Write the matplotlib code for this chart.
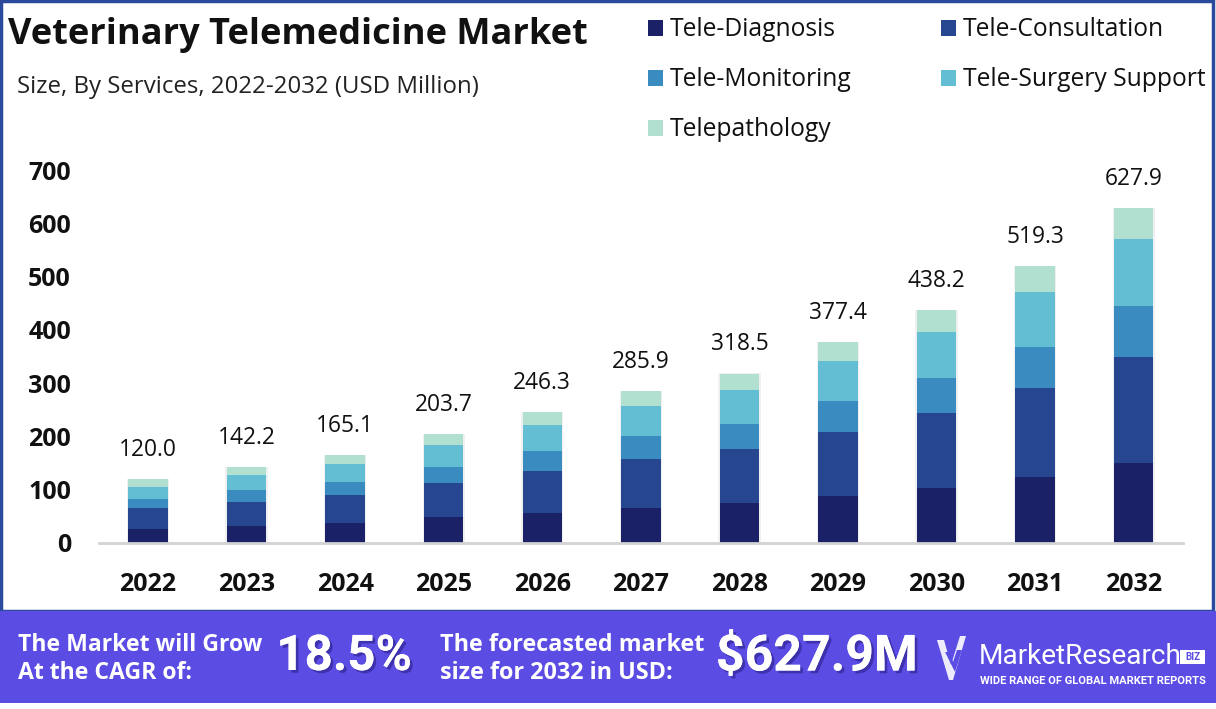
import matplotlib
matplotlib.use("Agg")
import matplotlib.pyplot as plt
from matplotlib.patches import Rectangle, Polygon
import matplotlib.patheffects as pe
import numpy as np

# ---------------- data ----------------
years = ["2022", "2023", "2024", "2025", "2026", "2027", "2028", "2029", "2030", "2031", "2032"]
series_names = ["Tele-Diagnosis", "Tele-Consultation", "Tele-Monitoring",
                "Tele-Surgery Support", "Telepathology"]
tele_diagnosis = [26, 32, 38, 48, 57, 66, 76, 88, 104, 123, 150]
tele_consultation = [40, 45, 52, 65, 78, 92, 101, 120, 140, 167, 200]
tele_monitoring = [16, 23, 25, 30, 38, 43, 47, 58, 66, 77, 94]
tele_surgery = [24, 28, 34, 41, 49, 57, 64, 75, 86, 104, 126]
telepathology = [14, 14, 16, 20, 24, 28, 30, 36, 42, 48, 58]
totals = [120.0, 142.2, 165.1, 203.7, 246.3, 285.9, 318.5, 377.4, 438.2, 519.3, 627.9]
yticks = [0, 100, 200, 300, 400, 500, 600, 700]
cagr_text = "18.5%"
forecast_text = "$627.9M"

colors = ["#1a2166", "#26478f", "#3a8cc0", "#63bdd3", "#b1dfd0"]

W, H = 1216, 709
fig = plt.figure(figsize=(W / 100, H / 100), dpi=100)
fig.patch.set_facecolor("white")

def fx(x):
    return x / W

def fy(y):
    return 1 - y / H

FONT = "Open Sans"

# ---------------- axes ----------------
ax = fig.add_axes([fx(98.7), fy(543), (1183 - 98.7) / W, (543 - 170) / H])
x = np.arange(len(years))
series = [tele_diagnosis, tele_consultation, tele_monitoring, tele_surgery, telepathology]
bottom = np.zeros(len(years))
bw = 0.40
# faint shadow behind the bars
ax.bar(x, np.array(totals), width=bw + 0.03, color="#e6e6ea", alpha=0.6, zorder=1)
for vals, c, name in zip(series, colors, series_names):
    ax.bar(x, vals, width=bw, bottom=bottom, color=c, label=name, zorder=2)
    bottom += np.array(vals)

for xi, t, top in zip(x, totals, bottom):
    ax.annotate(f"{t:.1f}", xy=(xi, max(t, top)), xytext=(0, 16.5), textcoords="offset points",
                ha="center", va="baseline", fontsize=16.4, family=FONT, color="#111111")

ax.set_xlim(-0.5, len(years) - 0.5)
ax.set_ylim(0, 700)
ax.set_yticks(yticks)
ax.set_yticklabels([str(v) for v in yticks], fontsize=18, fontweight="bold", family=FONT, color="#111111")
ax.set_xticks(x)
ax.set_xticklabels(years, fontsize=18, fontweight="bold", family=FONT, color="#111111")
ax.tick_params(axis="both", length=0)
ax.tick_params(axis="y", pad=20)
ax.tick_params(axis="x", pad=21)
for s in ["top", "right", "left"]:
    ax.spines[s].set_visible(False)
ax.spines["bottom"].set_color("#d3d3d3")
ax.spines["bottom"].set_linewidth(2)
ax.set_facecolor("none")

# ---------------- titles ----------------
fig.text(fx(8), fy(35), "Veterinary Telemedicine Market", fontsize=26, fontweight="bold",
         family=FONT, color="#111111", va="center", ha="left")
fig.text(fx(17), fy(87), "Size, By Services, 2022-2032 (USD Million)", fontsize=17.3,
         family=FONT, color="#222222", va="center", ha="left")

# ---------------- legend ----------------
leg_pos = [(648, 28), (941, 28), (648, 78), (941, 78), (648, 128)]
for (lx, ly), c, name in zip(leg_pos, colors, series_names):
    fig.add_artist(Rectangle((fx(lx), fy(ly + 8)), 15 / W, 16 / H, transform=fig.transFigure,
                             facecolor=c, edgecolor="none"))
    fig.text(fx(lx + 22), fy(ly + 2), name, fontsize=17.7, family=FONT, color="#111111",
             va="center", ha="left")

# ---------------- border ----------------
fig.add_artist(Rectangle((fx(1), fy(611)), 1212 / W, 610 / H, transform=fig.transFigure,
                         facecolor="none", edgecolor="#2b4a9b", linewidth=2.5))

# ---------------- footer ----------------
purple = "#5b4de4"
fig.add_artist(Rectangle((0, fy(703)), 1, (703 - 611) / H, transform=fig.transFigure,
                         facecolor=purple, edgecolor="none"))
shadow = [pe.withSimplePatchShadow(offset=(2, -2), shadow_rgbFace="#2a1f8a", alpha=0.6), pe.Normal()]
fig.text(fx(18), fy(645), "The Market will Grow", fontsize=16.6, fontweight="bold", family=FONT,
         color="white", va="center", ha="left")
fig.text(fx(18), fy(673), "At the CAGR of:", fontsize=16.6, fontweight="bold", family=FONT,
         color="white", va="center", ha="left")
fig.text(fx(344), fy(657), cagr_text, fontsize=35.5, fontweight="bold", family="Roboto",
         color="white", va="center", ha="center", path_effects=shadow)
fig.text(fx(440), fy(645), "The forecasted market", fontsize=16.8, fontweight="bold", family=FONT,
         color="white", va="center", ha="left")
fig.text(fx(440), fy(673), "size for 2032 in USD:", fontsize=16.8, fontweight="bold", family=FONT,
         color="white", va="center", ha="left")
fig.text(fx(817), fy(657), forecast_text, fontsize=36, fontweight="bold", family="Roboto",
         color="white", va="center", ha="center", path_effects=shadow)

# logo icon
icon = [(937, 640), (944, 640), (951, 665), (960, 636), (966, 636), (953, 680), (949, 680)]
fig.add_artist(Polygon([(fx(a), fy(b)) for a, b in icon], closed=True, transform=fig.transFigure,
                       facecolor="white", edgecolor="none", alpha=0.9))
icon2 = [(945, 652), (950, 652), (953, 662), (957, 650), (962, 650), (955, 672)]
fig.add_artist(Polygon([(fx(a), fy(b)) for a, b in icon2], closed=True, transform=fig.transFigure,
                       facecolor=purple, edgecolor="none"))
fig.text(fx(979), fy(656), "MarketResearch", fontsize=20.2, family="Roboto", color="white",
         va="center", ha="left")
fig.add_artist(Rectangle((fx(1180), fy(664)), 25 / W, 14 / H, transform=fig.transFigure,
                         facecolor="white", edgecolor="none"))
fig.text(fx(1192.5), fy(657), "BIZ", fontsize=7, fontweight="bold", family="Roboto", color=purple,
         va="center", ha="center")
fig.text(fx(980), fy(681), "WIDE RANGE OF GLOBAL MARKET REPORTS", fontsize=8, fontweight="bold",
         family="Roboto", color="white", va="center", ha="left")

fig.savefig("out.png", dpi=100, facecolor="white")
